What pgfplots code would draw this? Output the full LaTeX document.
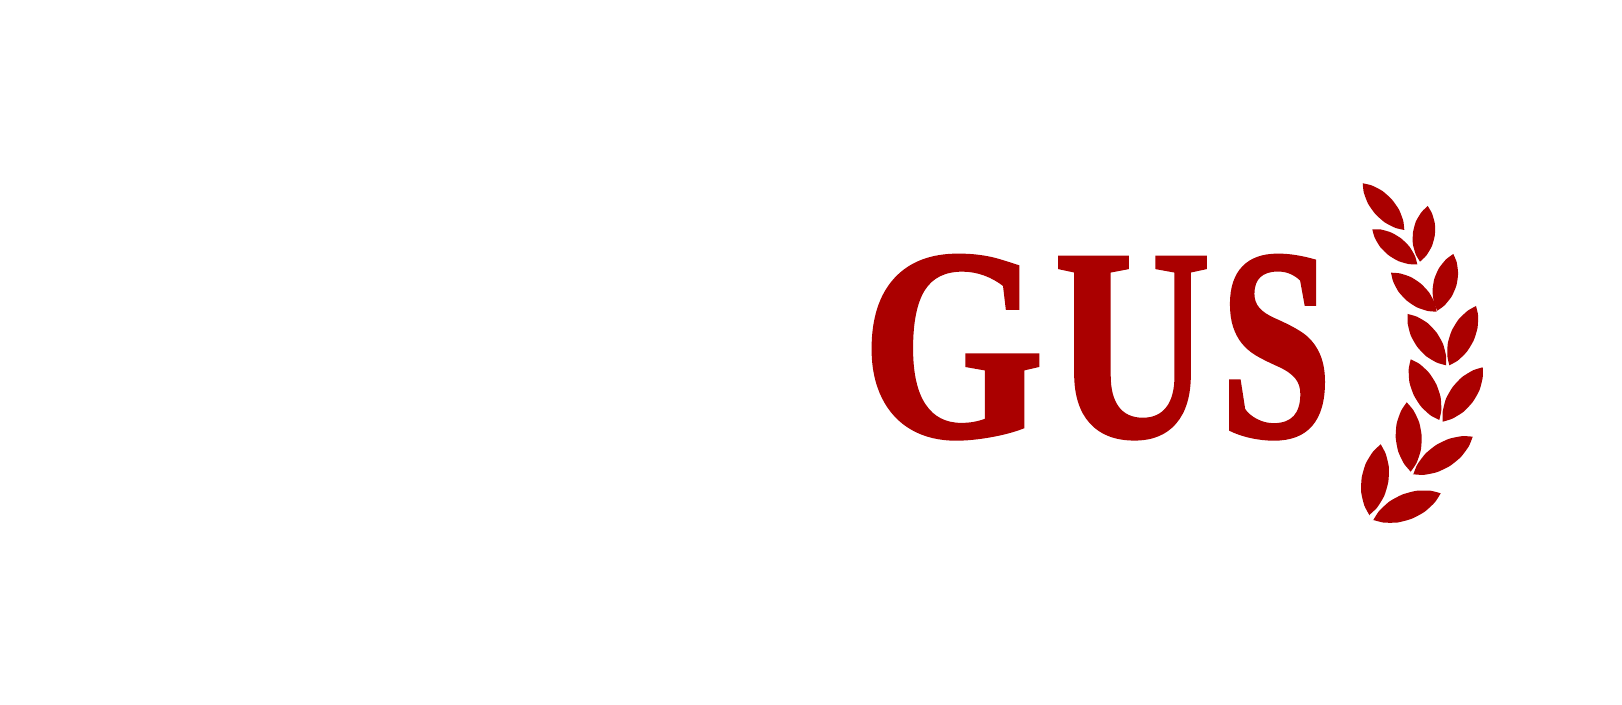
\documentclass[border=0pt]{standalone}
\usepackage{fontspec}
\usepackage{graphicx}
\usepackage{pgfplots}
\pgfplotsset{compat=1.18}
\newfontfamily\gusfont{Liberation Serif}[BoldFeatures={FakeBold=1.5}]
\definecolor{gusred}{RGB}{170,0,0}
\pgfplotsset{leaf/.style={fill=gusred, draw=none, smooth, tension=0.35}}
\begin{document}
\begin{tikzpicture}
\begin{axis}[scale only axis, width=16.22cm, height=7.05cm,
  xmin=0, xmax=1622, ymin=0, ymax=705, y dir=reverse,
  hide axis, clip=true]
\addplot[fill=white, draw=none] coordinates {(0,0) (1622,0) (1622,705) (0,705)} -- cycle;
% ---- left column of leaves: tip, one side, base (doubled), other side, tip ----
% L1
\addplot[leaf] coordinates {(1362.7,183.3) (1363.75,192.41) (1368.03,203.68) (1375.29,213.97) (1384.67,222.36) (1395.37,227.91) (1404.3,230) (1404.3,230) (1403.25,220.89) (1398.97,209.62) (1391.71,199.33) (1382.33,190.94) (1371.63,185.39) (1362.7,183.3)} -- cycle;
% L2
\addplot[leaf] coordinates {(1372.3,229.3) (1374.6,237.5) (1380.2,247.0) (1388.4,255.1) (1398.2,261.0) (1408.8,264.1) (1417.3,264.3) (1417.3,264.3) (1415.0,256.1) (1409.4,246.6) (1401.2,238.5) (1391.4,232.6) (1380.8,229.5) (1372.3,229.3)} -- cycle;
% L3
\addplot[leaf] coordinates {(1391,272.7) (1393.1,281.4) (1398.5,291.7) (1406.7,300.6) (1416.8,307.3) (1427.8,311.0) (1436.7,311.7) (1436.7,311.7) (1434.7,303.0) (1429.2,292.7) (1421.0,283.8) (1410.9,277.1) (1399.9,273.4) (1391,272.7)} -- cycle;
% L4
\addplot[leaf] coordinates {(1407.7,314) (1407.7,323.6) (1410.8,335.6) (1417.2,346.8) (1426.1,356.2) (1436.8,362.6) (1446,365.3) (1446,365.3) (1446.0,355.7) (1442.9,343.7) (1436.5,332.5) (1427.6,323.1) (1416.9,316.7) (1407.7,314)} -- cycle;
% L5
\addplot[leaf] coordinates {(1410.7,359.3) (1408.7,369.1) (1409.4,382.2) (1413.7,395.0) (1420.9,406.4) (1430.4,415.3) (1439.3,420) (1439.3,420) (1441.3,410.2) (1440.6,397.2) (1436.3,384.3) (1429.1,372.9) (1419.6,364.0) (1410.7,359.3)} -- cycle;
% L6
\addplot[leaf] coordinates {(1406.7,402.3) (1401.0,411.0) (1396.6,423.8) (1395.7,437.8) (1398.2,451.5) (1404.0,463.7) (1410.7,471.7) (1410.7,471.7) (1416.5,463.0) (1420.8,450.2) (1421.7,436.3) (1419.2,422.5) (1413.4,410.3) (1406.7,402.3)} -- cycle;
% L7
\addplot[leaf] coordinates {(1380.7,444.3) (1372.9,451.8) (1365.7,463.6) (1361.7,477.5) (1361.1,491.9) (1364.3,505.5) (1369.3,515) (1369.3,515) (1377.1,507.6) (1384.3,495.7) (1388.3,481.8) (1388.9,467.4) (1385.7,453.8) (1380.7,444.3)} -- cycle;
% ---- right column of leaves ----
% R1
\addplot[leaf] coordinates {(1427.7,206) (1421.6,212.0) (1415.9,221.4) (1413.0,232.3) (1412.8,243.7) (1415.7,254.3) (1420,261.7) (1420,261.7) (1426.2,255.7) (1431.8,246.3) (1434.8,235.4) (1434.9,224.0) (1432.0,213.4) (1427.7,206)} -- cycle;
% R2
\addplot[leaf] coordinates {(1453.3,254) (1446.1,259.3) (1438.9,268.3) (1434.2,279.2) (1432.5,291.0) (1433.9,302.4) (1437.3,310.7) (1437.3,310.7) (1444.5,305.4) (1451.7,296.4) (1456.4,285.5) (1458.1,273.7) (1456.7,262.3) (1453.3,254)} -- cycle;
% R3
\addplot[leaf] coordinates {(1476,306) (1467.6,310.8) (1458.5,319.5) (1451.7,330.7) (1447.8,343.2) (1447.3,355.8) (1449.3,365.3) (1449.3,365.3) (1457.8,360.6) (1466.8,351.8) (1473.6,340.6) (1477.5,328.1) (1478.1,315.5) (1476,306)} -- cycle;
% R4
\addplot[leaf] coordinates {(1482.7,367.3) (1473.1,370.3) (1461.9,377.2) (1452.6,387.1) (1445.9,398.9) (1442.7,411.6) (1442.7,421.7) (1442.7,421.7) (1452.3,418.7) (1463.5,411.8) (1472.8,401.9) (1479.5,390.1) (1482.7,377.4) (1482.7,367.3)} -- cycle;
% R5
\addplot[leaf] coordinates {(1472.7,436.7) (1462.4,436.1) (1449.1,438.8) (1436.3,444.9) (1425.3,453.8) (1417.2,464.7) (1413.3,474.3) (1413.3,474.3) (1423.6,474.9) (1436.9,472.2) (1449.7,466.1) (1460.7,457.2) (1468.8,446.3) (1472.7,436.7)} -- cycle;
% R6
\addplot[leaf] coordinates {(1440.7,493.3) (1430.3,490.7) (1416.3,490.8) (1402.2,494.6) (1389.4,501.5) (1379.1,511.0) (1373.3,520) (1373.3,520) (1383.7,522.6) (1397.7,522.5) (1411.8,518.7) (1424.6,511.8) (1434.9,502.3) (1440.7,493.3)} -- cycle;
% ---- wordmark ----
\node[anchor=base, text=gusred, inner sep=0pt] at (axis cs:953,436)
  {\scalebox{0.86}[1]{\fontsize{77.5}{77.5}\selectfont\gusfont\bfseries G}};
\node[anchor=base, text=gusred, inner sep=0pt] at (axis cs:1132.5,436)
  {\scalebox{0.795}[1]{\fontsize{77.5}{77.5}\selectfont\gusfont\bfseries U}};
\node[anchor=base, text=gusred, inner sep=0pt] at (axis cs:1276,436)
  {\scalebox{0.74}[1]{\fontsize{77.5}{77.5}\selectfont\gusfont\bfseries S}};
\end{axis}
\end{tikzpicture}
\end{document}
